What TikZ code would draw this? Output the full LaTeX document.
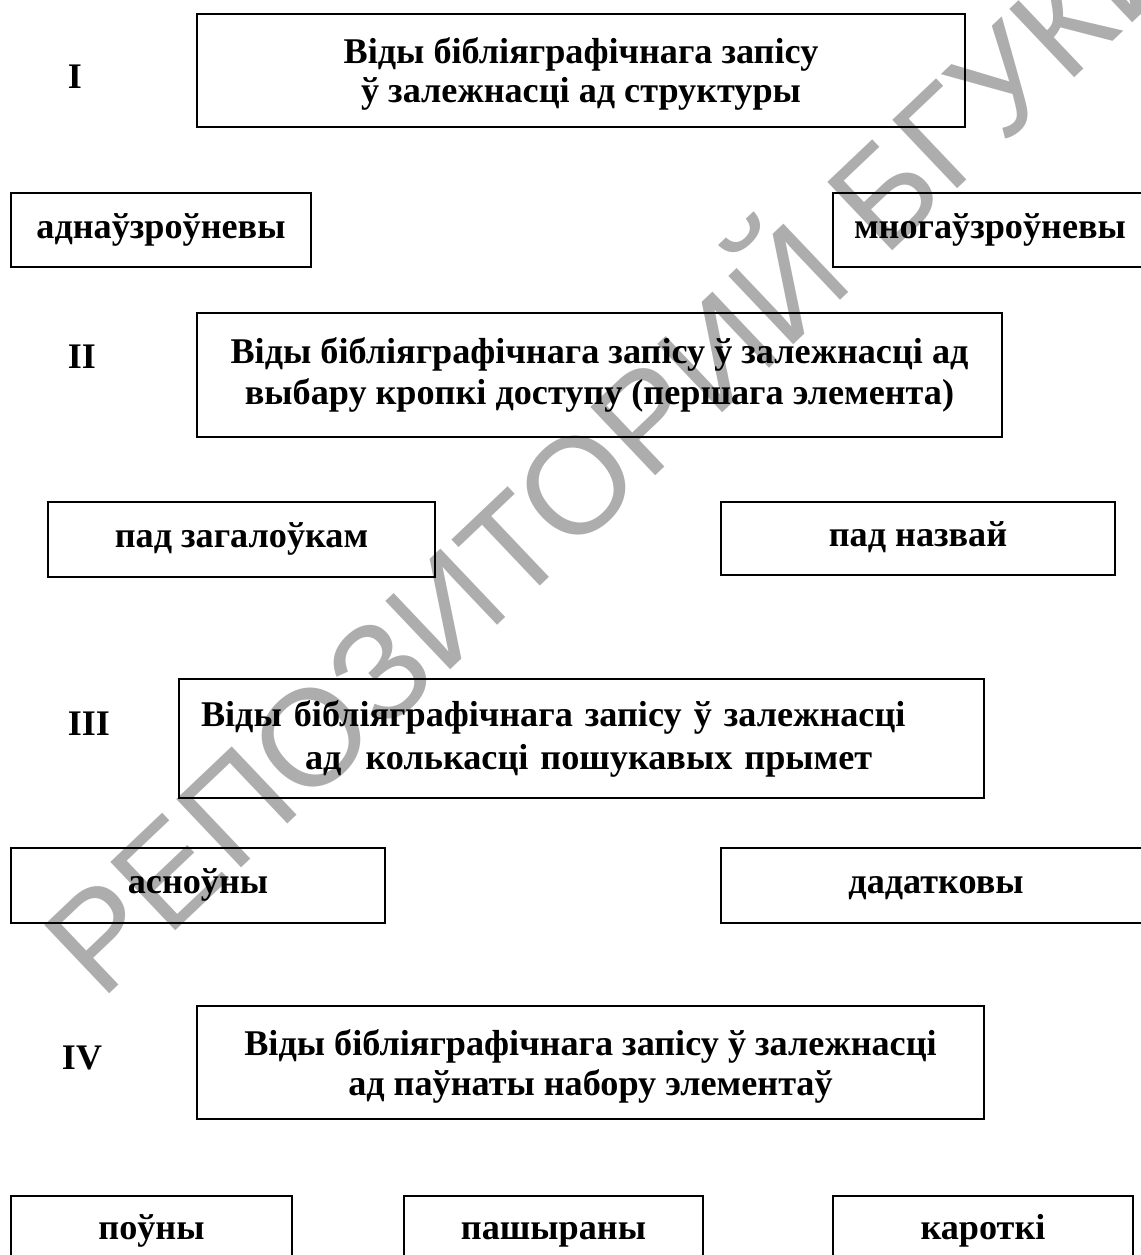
\documentclass[tikz,border=0pt]{standalone}
\usepackage{fontspec}
\setmainfont{Liberation Serif}
\newfontfamily\wmfont{Liberation Sans}
\newcommand{\pxu}{0.5pt}

\begin{document}
\begin{tikzpicture}[x=0.5pt, y=-0.5pt,
  box/.style={draw, line width=0.9pt, inner sep=0pt, align=center, font=\bfseries\fontsize{18.1}{19.5}\selectfont},
  leaf/.style={box, text height=11.5pt, text depth=3.5pt},
  num/.style={font=\bfseries\fontsize{18}{20}\selectfont, inner sep=0pt},
  wm/.style={text=black!32, font=\wmfont\fontsize{68.5}{70}\selectfont, inner sep=0pt}]

\useasboundingbox (0,0) rectangle (1141,1255);
\clip (0,0) rectangle (1141,1255);

% watermark
\node[wm, rotate=43.5, anchor=base west] (wmark) at (101,1002) {РЕПОЗИТОРИЙ БГУКИ};

% I
\node[num] (numI) at (75,77) {I};
\node[box, minimum width=768*\pxu, minimum height=113*\pxu, text depth=-1.1pt] (structI) at (581,70.5) {Віды бібліяграфічнага запісу\\ў залежнасці ад структуры};
\node[leaf, minimum width=300*\pxu, minimum height=74*\pxu] (odn) at (161,230) {аднаўзроўневы};
\node[leaf, minimum width=314*\pxu, minimum height=74*\pxu] (mnoga) at (990,230) {многаўзроўневы};

% II
\node[num] (numII) at (82,357) {II};
\node[box, minimum width=805*\pxu, minimum height=124*\pxu, font=\bfseries\fontsize{18.1}{20.5}\selectfont] (accessII) at (599.5,375) {Віды бібліяграфічнага запісу ў залежнасці ад\\выбару кропкі доступу (першага элемента)};
\node[leaf, minimum width=387*\pxu, minimum height=75*\pxu] (zag) at (241.5,539.5) {пад загалоўкам};
\node[leaf, minimum width=394*\pxu, minimum height=73*\pxu] (nazv) at (918,538.5) {пад назвай};

% III
\node[num] (numIII) at (89,724) {III};
\node[box, minimum width=805*\pxu, minimum height=119*\pxu, inner xsep=11pt, text width=380.5pt, align=left, font=\bfseries\fontsize{18.1}{21.5}\selectfont] (countIII) at (581.5,738.5) {Віды бібліяграфічнага запісу ў залежнасці\\\hspace*{52pt}ад\ \ колькасці пошукавых прымет};
\node[leaf, minimum width=374*\pxu, minimum height=75*\pxu] (asn) at (198,885.5) {асноўны};
\node[leaf, minimum width=430*\pxu, minimum height=75*\pxu] (dad) at (936,885.5) {дадатковы};

% IV
\node[num] (numIV) at (82,1058) {IV};
\node[box, minimum width=787*\pxu, minimum height=113*\pxu, text depth=-3.1pt, font=\bfseries\fontsize{18.1}{20}\selectfont] (fullIV) at (590.5,1062.5) {Віды бібліяграфічнага запісу ў залежнасці\\ад паўнаты набору элементаў};
\node[leaf, minimum width=281*\pxu, minimum height=70*\pxu] (poun) at (151.5,1231) {поўны};
\node[leaf, minimum width=299*\pxu, minimum height=70*\pxu] (pash) at (553.5,1231) {пашыраны};
\node[leaf, minimum width=300*\pxu, minimum height=70*\pxu] (kar) at (983,1231) {кароткі};

\end{tikzpicture}
\end{document}
